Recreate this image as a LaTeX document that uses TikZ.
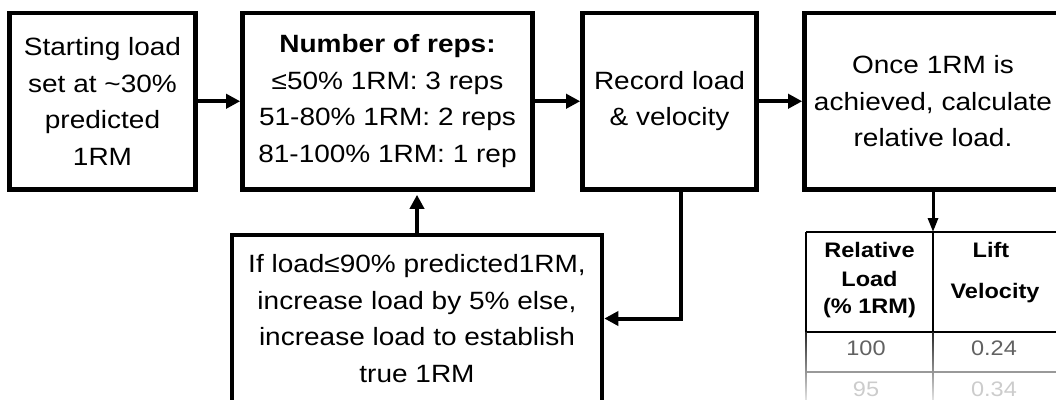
\documentclass[tikz,border=0pt]{standalone}
\usepackage{fontspec}
\setmainfont{Liberation Sans}[FakeStretch=1.12]
\usetikzlibrary{arrows.meta}
\begin{document}
\begin{tikzpicture}[x=1pt,y=-1pt,
  box/.style={draw, line width=4.6pt, inner sep=0pt, align=center, font=\fontsize{25}{36.5}\selectfont},
  arr/.style={line width=4pt, -{Triangle[length=14pt,width=14pt]}},
  tarr/.style={line width=3pt, -{Triangle[length=14pt,width=10pt]}},
  hdr/.style={font=\fontsize{21}{28}\selectfont\bfseries, anchor=base, inner sep=0pt},
  cell/.style={font=\fontsize{21}{28}\selectfont, anchor=base, inner sep=0pt},
  tline/.style={line width=1.8pt}]
\useasboundingbox (0,0) rectangle (1056,399);
\clip (0,0) rectangle (1056,399);
% boxes
\node[box, minimum width=186pt, minimum height=176.5pt] (start) at (102.5,101.25)
  {Starting load\\set at \textasciitilde30\%\\predicted\\1RM};
\node[box, minimum width=290pt, minimum height=176.5pt] (reps) at (387.5,101.25)
  {\textbf{Number of reps:}\\≤50\% 1RM: 3 reps\\51-80\% 1RM: 2 reps\\81-100\% 1RM: 1 rep};
\node[box, minimum width=174pt, minimum height=176.5pt] (record) at (669.5,101.25)
  {Record load\\\& velocity};
\node[box, minimum width=257pt, minimum height=176.5pt] (once) at (933,101.25)
  {Once 1RM is\\achieved, calculate\\relative load.};
\node[box, minimum width=370pt, minimum height=167pt] (ifload) at (417,318.5)
  {If load≤90\% predicted1RM,\\increase load by 5\% else,\\increase load to establish\\true 1RM};
% connectors
\draw[arr] (start.east) -- (reps.west);
\draw[arr] (reps.east) -- (record.west);
\draw[arr] (record.east) -- (once.west);
\draw[arr, shorten >=3pt] (ifload.north) -- (ifload.north |- reps.south);
\draw[arr] ([xshift=11pt]record.south) |- (ifload.east);
% table
\coordinate (tabtop) at (933,232);
\draw[tarr] (once.south) -- (tabtop);
\draw[tline] (806,232) -- (1062,232);
\draw[tline] (806,232) -- (806,332);
\draw[tline] (933,232) -- (933,332);
\draw[tline] (806,332) -- (1062,332);
\draw[line width=1.2pt, black!40] (806,372) -- (1062,372);
\shade[top color=black!85, bottom color=black!12] (805.1,332) rectangle (806.9,399);
\shade[top color=black!85, bottom color=black!12] (932.1,332) rectangle (933.9,399);
\node[hdr] (h1) at (869.5,257) {Relative};
\node[hdr] (h2) at (869.5,286) {Load};
\node[hdr] (h3) at (869.5,313) {(\% 1RM)};
\node[hdr] (h4) at (991,257) {Lift};
\node[hdr] (h5) at (995,298) {Velocity};
\node[cell, text=black!62] (r1a) at (866,355) {100};
\node[cell, text=black!62] (r1b) at (994,355) {0.24};
\node[cell, text=black!20] (r2a) at (866,396) {95};
\node[cell, text=black!20] (r2b) at (994,396) {0.34};
\end{tikzpicture}
\end{document}
